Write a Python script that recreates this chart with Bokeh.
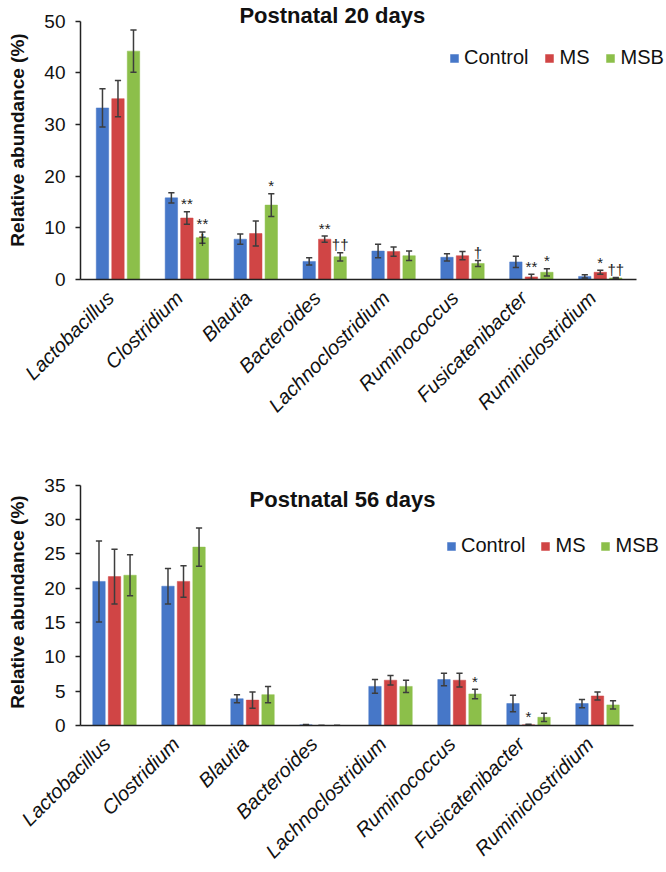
import math
from bokeh.plotting import figure
from bokeh.models import (ColumnDataSource, Range1d, Legend, LegendItem,
                          Label, FixedTicker)
from bokeh.transform import dodge
from bokeh.layouts import column
from bokeh.embed import file_html
from bokeh.resources import INLINE
from bokeh.core.properties import value

FONT = "Liberation Sans"
COLORS = ["#4677C8", "#D04545", "#8CBF4A"]
groups = ["Control", "MS", "MSB"]

genera = ["Lactobacillus", "Clostridium", "Blautia", "Bacteroides",
          "Lachnoclostridium", "Ruminococcus", "Fusicatenibacter", "Ruminiclostridium"]

# ---- Postnatal 20 days ----
d20_control = [33.2, 15.8, 7.8, 3.5, 5.5, 4.3, 3.4, 0.6]
d20_control_err = [3.7, 1.0, 1.0, 0.7, 1.3, 0.7, 1.1, 0.3]
d20_ms = [35.0, 11.9, 8.9, 7.8, 5.4, 4.6, 0.5, 1.4]
d20_ms_err = [3.5, 1.2, 2.4, 0.6, 0.9, 0.8, 0.5, 0.4]
d20_msb = [44.2, 8.1, 14.4, 4.4, 4.6, 3.1, 1.4, 0.3]
d20_msb_err = [4.1, 1.1, 2.2, 0.8, 0.9, 0.6, 0.7, 0.1]
d20_ms_star = ["", "**", "", "**", "", "", "**", "*"]
d20_msb_star = ["", "**", "*", "", "", "", "*", ""]
d20_msb_dagger = ["", "\u2020", "", "\u2020\u2020", "", "\u2020", "", "\u2020\u2020"]

# ---- Postnatal 56 days ----
d56_control = [21.0, 20.3, 3.9, 0.1, 5.7, 6.7, 3.2, 3.2]
d56_control_err = [5.9, 2.6, 0.6, 0.05, 1.0, 0.9, 1.2, 0.6]
d56_ms = [21.7, 21.0, 3.7, 0.0, 6.6, 6.6, 0.1, 4.3]
d56_ms_err = [4.0, 2.3, 1.2, 0.0, 0.7, 1.0, 0.1, 0.6]
d56_msb = [21.9, 26.0, 4.5, 0.0, 5.7, 4.6, 1.2, 3.0]
d56_msb_err = [3.0, 2.8, 1.2, 0.0, 0.9, 0.7, 0.6, 0.6]
d56_ms_star = ["", "", "", "", "", "", "*", ""]
d56_msb_star = ["", "", "", "", "", "*", "", ""]
d56_msb_dagger = ["", "", "", "", "", "", "", ""]

y20_ticks = [0, 10, 20, 30, 40, 50]
y56_ticks = [0, 5, 10, 15, 20, 25, 30, 35]

OFFSETS = [-0.225, 0.0, 0.225]
BAR_W = 0.18
CAP = 0.045
LABEL_SHIFT = 0.11


def build(title, series, errs, stars, daggers, ticks, ytop, xr, xend_axis,
          fw, fh, bl, br, bt, bb, title_xy, legend_loc, legend_spacing, px_per_unit):
    p = figure(x_range=Range1d(*xr), y_range=Range1d(0, ytop),
               frame_width=fw, frame_height=fh,
               min_border_left=bl, min_border_right=br,
               min_border_top=bt, min_border_bottom=bb,
               output_backend="svg", toolbar_location=None,
               background_fill_color="white", border_fill_color="white")
    p.outline_line_color = None
    p.xgrid.grid_line_color = None
    p.ygrid.grid_line_color = None

    pad = 8.0 / px_per_unit
    line = 16.0 / px_per_unit
    xpos = [i + 0.5 for i in range(len(genera))]
    data = dict(x=xpos, cat=genera)
    for i, (vals, ee) in enumerate(zip(series, errs)):
        data[f"v{i}"] = vals
        data[f"lo{i}"] = [v - e for v, e in zip(vals, ee)]
        data[f"hi{i}"] = [v + e for v, e in zip(vals, ee)]
    ms_star, msb_star = stars
    data["s1"] = ms_star
    data["s1y"] = [v + e + pad for v, e in zip(series[1], errs[1])]
    data["s2"] = msb_star
    data["s2y"] = [v + e + pad for v, e in zip(series[2], errs[2])]
    data["d2"] = daggers
    data["d2y"] = [v + e + pad - (line if s else 0.0)
                   for v, e, s in zip(series[2], errs[2], msb_star)]
    src = ColumnDataSource(data)

    rends = []
    for i in range(3):
        r = p.vbar(x=dodge("x", OFFSETS[i]), top=f"v{i}",
                   width=BAR_W, source=src, fill_color=COLORS[i],
                   line_color=COLORS[i], line_width=0.5)
        rends.append(r)
    for i in range(3):
        p.segment(x0=dodge("x", OFFSETS[i]), y0=f"lo{i}",
                  x1=dodge("x", OFFSETS[i]), y1=f"hi{i}",
                  source=src, line_color="#3d3d3d", line_width=1.5)
        for end in ("lo", "hi"):
            p.segment(x0=dodge("x", OFFSETS[i] - CAP), y0=f"{end}{i}",
                      x1=dodge("x", OFFSETS[i] + CAP), y1=f"{end}{i}",
                      source=src, line_color="#3d3d3d", line_width=1.5)

    for key, off in (("s1", OFFSETS[1]), ("s2", OFFSETS[2]), ("d2", OFFSETS[2])):
        p.text(x=dodge("x", off), y=f"{key}y", text=key, source=src,
               text_align="center", text_baseline="alphabetic",
               text_font=value(FONT), text_font_size="15px", text_color="#222222")

    p.add_layout(Label(x=title_xy[0], y=title_xy[1], text=title,
                       text_align="center", text_baseline="middle",
                       text_font=FONT, text_font_size="22px",
                       text_font_style="bold", text_color="#111111"))

    legend = Legend(items=[LegendItem(label=g, renderers=[r]) for g, r in zip(groups, rends)],
                    orientation="horizontal", location=legend_loc,
                    background_fill_alpha=0, border_line_color=None,
                    label_text_font=FONT, label_text_font_size="20px",
                    label_text_color="#111111",
                    glyph_width=10, glyph_height=10, label_standoff=5,
                    spacing=legend_spacing, padding=0, margin=0, label_height=20)
    p.add_layout(legend)

    ya = p.yaxis[0]
    ya.ticker = FixedTicker(ticks=ticks)
    ya.bounds = (0, ticks[-1])
    ya.axis_label = "Relative abundance (%)"
    ya.axis_label_text_font = FONT
    ya.axis_label_text_font_size = "19px"
    ya.axis_label_text_font_style = "bold"
    ya.axis_label_text_color = "#111111"
    ya.axis_label_standoff = 13
    ya.major_label_text_font = FONT
    ya.major_label_text_font_size = "19px"
    ya.major_label_text_color = "#111111"
    ya.major_label_standoff = 10
    ya.major_tick_out = 5
    ya.major_tick_in = 0
    ya.minor_tick_out = 0
    ya.minor_tick_in = 0
    ya.axis_line_color = "#222222"
    ya.axis_line_width = 1.5
    ya.major_tick_line_color = "#222222"
    ya.major_tick_line_width = 1.5

    xa = p.xaxis[0]
    label_pos = [x - LABEL_SHIFT for x in xpos]
    xa.ticker = FixedTicker(ticks=label_pos)
    xa.major_label_overrides = {t: g for t, g in zip(label_pos, genera)}
    xa.bounds = (xr[0], xend_axis)
    xa.major_label_orientation = math.pi / 4
    xa.major_label_text_font = FONT
    xa.major_label_text_font_size = "20px"
    xa.major_label_text_font_style = "italic"
    xa.major_label_text_color = "#111111"
    xa.major_label_standoff = 15
    xa.major_tick_out = 0
    xa.major_tick_in = 0
    xa.minor_tick_out = 0
    xa.minor_tick_in = 0
    xa.axis_line_color = "#222222"
    xa.axis_line_width = 1.5
    return p


p1 = build("Postnatal 20 days",
           [d20_control, d20_ms, d20_msb],
           [d20_control_err, d20_ms_err, d20_msb_err],
           (d20_ms_star, d20_msb_star), d20_msb_dagger,
           y20_ticks, 54.0, (-0.044, 8.49), 8.026,
           588, 279, 74, 4, 0, 155,
           (3.611, 51.16), (369, 210), 16, 5.166)

p2 = build("Postnatal 56 days",
           [d56_control, d56_ms, d56_msb],
           [d56_control_err, d56_ms_err, d56_msb_err],
           (d56_ms_star, d56_msb_star), d56_msb_dagger,
           y56_ticks, 36.0, (0.007, 8.442), 8.021,
           582, 247, 80, 4, 44, 146,
           (3.804, 32.94), (366, 168), 15, 6.861)

layout = column(p1, p2)
open("out.html", "w").write(file_html(layout, INLINE))
